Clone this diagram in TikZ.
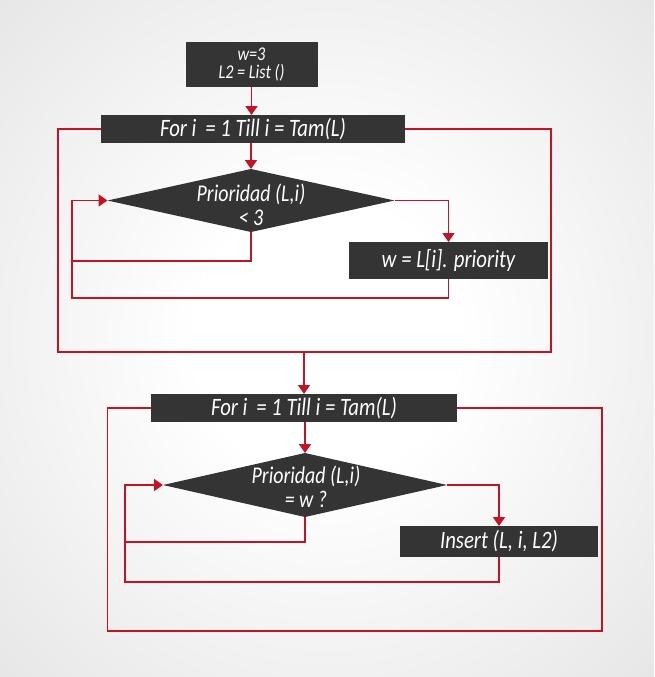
\documentclass[tikz,border=0pt]{standalone}
\usepackage{fontspec}
\newfontfamily\diafont{Carlito}[FakeStretch=0.83]
\usetikzlibrary{shapes.geometric,arrows.meta}
\definecolor{boxgray}{RGB}{52,52,52}
\definecolor{flowred}{RGB}{196,18,38}
\pgfdeclareradialshading{bgshade}{\pgfpoint{0bp}{0bp}}{color(0bp)=(white); color(10bp)=(white); color(50bp)=(black!15); color(72bp)=(black!19)}
\begin{document}
\begin{tikzpicture}[x=1pt,y=-1pt,
 box/.style={fill=boxgray, draw=none, inner sep=0pt, outer sep=0pt, text=white, font=\diafont\itshape\fontsize{25}{24}\selectfont, align=center},
 dec/.style={diamond, fill=boxgray, draw=none, inner sep=0pt, outer sep=0pt},
 dtext/.style={text=white, inner sep=0pt, font=\diafont\itshape\fontsize{24}{24}\selectfont, align=center},
 flow/.style={draw=flowred, line width=1.8pt},
 arr/.style={flow, -{Triangle[width=12pt,length=9pt]}},
 ans/.style={text=white, inner sep=0pt, font=\diafont\itshape\fontsize{13}{13}\selectfont, opacity=0.9}
]
\useasboundingbox (0,0) rectangle (654,677);
\shade[shading=bgshade] (0,0) rectangle (654,677);

% nodes
\node[box, minimum width=132, minimum height=45, font=\diafont\itshape\fontsize{19.5}{18}\selectfont] (b0) at (251.5,64.5) {w=3\\L2 = List ()};
\node[box, minimum width=304, minimum height=28] (f1) at (253,129) {For i\, = 1 Till i = Tam(L)};
\node[dec, minimum width=287, minimum height=63] (d1) at (251,200.5) {};
\node[dtext] (t1) at (251,204.5) {Prioridad (L,i)\\< 3};
\node[box, minimum width=199, minimum height=37] (w1) at (448.5,260.5) {w = L[i]. priority};

\node[box, minimum width=306, minimum height=28] (f2) at (304,408) {For i\, = 1 Till i = Tam(L)};
\node[dec, minimum width=284, minimum height=64] (d2) at (305,485) {};
\node[dtext] (t2) at (306,486.5) {Prioridad (L,i)\\= w ?};
\node[box, minimum width=198, minimum height=31] (ins) at (499,541.5) {Insert (L, i, L2)};

% answer labels
\node[ans] (s1) at (422,187) {Sí};
\node[ans] (n1) at (217,244) {No};
\node[ans] (s2) at (473,471) {Sí};
\node[ans] (n2) at (271,526) {No};

% coordinates
\coordinate (ret1) at (71.7,298);
\coordinate (no1) at (71.7,260.7);
\coordinate (ol1) at (58,352);
\coordinate (or1) at (551,352);
\coordinate (ret2) at (125,582);
\coordinate (no2) at (125,541.7);
\coordinate (ol2) at (107.5,631);
\coordinate (or2) at (602,631);
\coordinate (m1) at (f2.north |- ol1);

% connectors, block 1
\draw[arr] (b0.south) -- (b0.south |- f1.north);
\draw[arr] (d1.north |- f1.south) -- (d1.north);
\draw[arr] (d1.east) -| (w1.north);
\draw[arr] (w1.south) |- (ret1) |- (d1.west);
\draw[flow] (d1.south) |- (no1);
\draw[flow] (f1.west) -| (ol1) -- (or1) |- (f1.east);

% connectors, block 2
\draw[arr] (m1) -- (f2.north);
\draw[arr] (d2.north |- f2.south) -- (d2.north);
\draw[arr] (d2.east) -| (ins.north);
\draw[arr] (ins.south) |- (ret2) |- (d2.west);
\draw[flow] (d2.south) |- (no2);
\draw[flow] (f2.west) -| (ol2) -- (or2) |- (f2.east);
\end{tikzpicture}
\end{document}
